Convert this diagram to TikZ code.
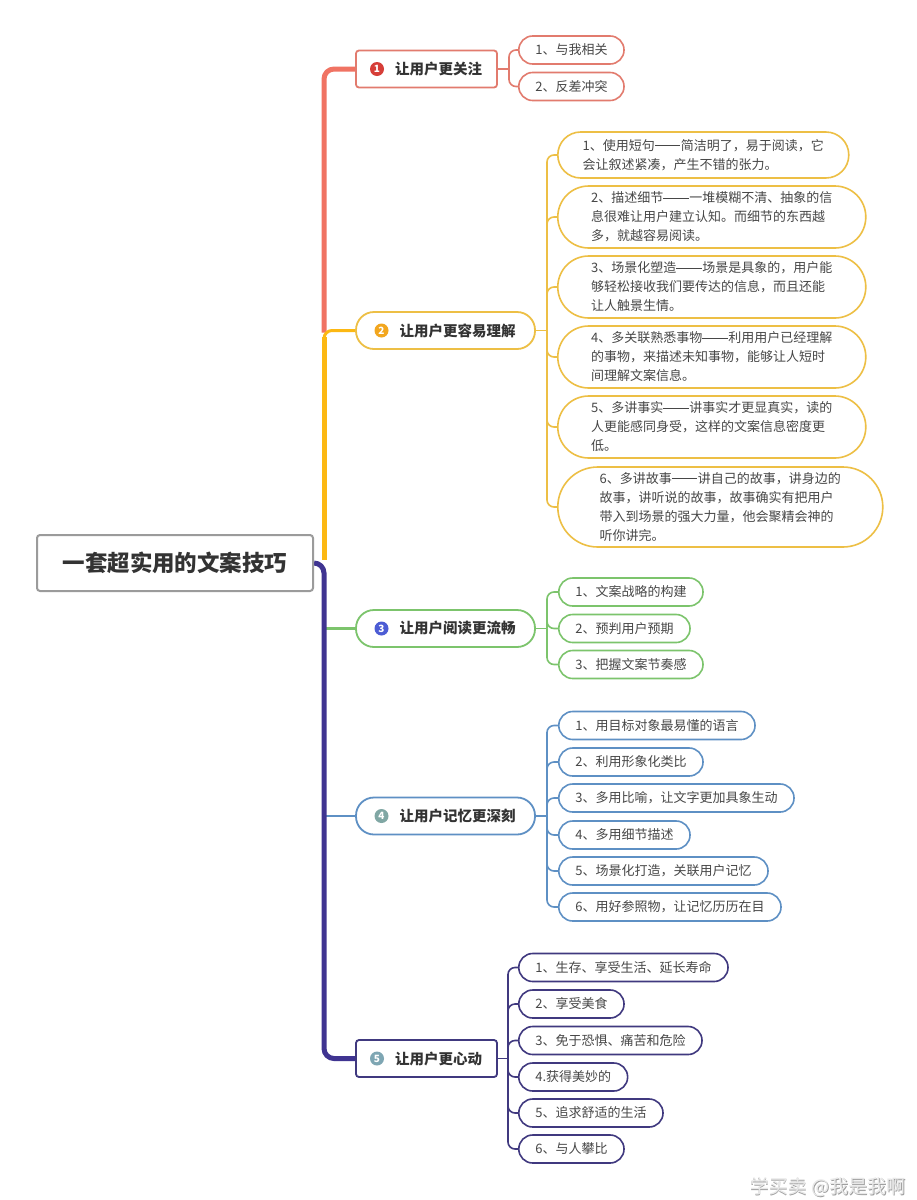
\documentclass[tikz,border=0pt]{standalone}
\usepackage{fontspec}
\setmainfont{Noto Sans CJK SC}
\usetikzlibrary{calc}
\definecolor{cred}{HTML}{F07363}
\definecolor{credb}{HTML}{E27B6E}
\definecolor{cyel}{HTML}{FCB813}
\definecolor{cyelb}{HTML}{EDBF45}
\definecolor{cgrn}{HTML}{7CC46C}
\definecolor{cblu}{HTML}{5E90C4}
\definecolor{cpur}{HTML}{3F3491}
\definecolor{cpurb}{HTML}{40397F}
\definecolor{croot}{HTML}{9B9B9B}
\definecolor{ctxt}{HTML}{333333}
\definecolor{cleaf}{HTML}{474747}
\definecolor{ia}{HTML}{D63E38}
\definecolor{ib}{HTML}{F2A61E}
\definecolor{ic}{HTML}{4C5CD4}
\definecolor{id}{HTML}{80A7A4}
\definecolor{ie}{HTML}{7EA6B3}
\newcommand\ddash{\raisebox{0.33em}{\rule{1.95em}{0.07em}}\hspace{0.05em}}
\pgfdeclarelayer{bg}
\pgfdeclarelayer{paper}
\pgfsetlayers{paper,bg,main}
\tikzset{
  rootbox/.style={draw=croot, line width=2pt, rounded corners=3pt, fill=white,
    minimum width=276pt, minimum height=56pt, inner sep=0pt,
    font=\fontsize{22.5}{26}\selectfont\bfseries, text=ctxt},
  rbox/.style={draw=#1, line width=1.8pt, rounded corners=3pt, fill=white,
    minimum width=141pt, minimum height=37pt, inner sep=0pt,
    font=\fontsize{14.5}{17}\selectfont\bfseries, text=ctxt},
  pbox/.style={draw=#1, line width=1.8pt, rounded corners=18pt, fill=white,
    minimum width=179pt, minimum height=37pt, inner sep=0pt,
    font=\fontsize{14.5}{17}\selectfont\bfseries, text=ctxt},
  leaf/.style={draw=#1, line width=1.6pt, rounded corners=13.9pt, fill=white,
    minimum height=28pt, inner xsep=16.5pt, inner ysep=0pt,
    font=\fontsize{13}{19}\selectfont, text=cleaf, anchor=west},
  bigleaf/.style={draw=cyelb, line width=1.6pt, fill=white, inner sep=0pt,
    font=\fontsize{13}{19}\selectfont, text=cleaf, anchor=west, align=left},
  icon/.style={circle, fill=#1, minimum size=14pt, inner sep=0pt, text=white,
    font=\fontsize{10}{10}\selectfont\bfseries},
  lk/.style={draw=#1, line width=1.6pt, rounded corners=7pt},
}
\begin{document}
\begin{tikzpicture}[x=1pt,y=-1pt]
\useasboundingbox (0,0) rectangle (917,1200);
\begin{pgfonlayer}{paper}
\fill[white] (0,0) rectangle (917,1200);
\end{pgfonlayer}

% root
\node[rootbox] (root) at (175,563) {一套超实用的文案技巧};

% branches
\node[rbox=credb] (b1) at (426.5,69) {\hspace*{24pt}让用户更关注};
\node[pbox=cyelb] (b2) at (445.5,330.5) {\hspace*{24pt}让用户更容易理解};
\node[pbox=cgrn] (b3) at (445.5,628.5) {\hspace*{24pt}让用户阅读更流畅};
\node[pbox=cblu] (b4) at (445.5,816) {\hspace*{24pt}让用户记忆更深刻};
\node[rbox=cpurb] (b5) at (426.5,1058.5) {\hspace*{24pt}让用户更心动};

\node[icon=ia] (i1) at ($(b1.text |- b1.west)+(6,0)$) {1};
\node[icon=ib] (i2) at ($(b2.text |- b2.west)+(6,0)$) {2};
\node[icon=ic] (i3) at ($(b3.text |- b3.west)+(6,0)$) {3};
\node[icon=id] (i4) at ($(b4.text |- b4.west)+(6,0)$) {4};
\node[icon=ie] (i5) at ($(b5.text |- b5.west)+(6,0)$) {5};

% branch 1 leaves
\node[leaf=credb] (l11) at (518,50) {1、与我相关};
\node[leaf=credb] (l12) at (518,86.5) {2、反差冲突};

% branch 2 leaves
\node[bigleaf, minimum width=291pt, minimum height=46pt, rounded corners=22.9pt] (l21) at (557,155)
  {1、使用短句\ddash 简洁明了，易于阅读，它\\会让叙述紧凑，产生不错的张力。};
\node[bigleaf, minimum width=308pt, minimum height=62pt, rounded corners=30.9pt] (l22) at (557,217)
  {2、描述细节\ddash 一堆模糊不清、抽象的信\\息很难让用户建立认知。而细节的东西越\\多，就越容易阅读。};
\node[bigleaf, minimum width=308pt, minimum height=62pt, rounded corners=30.9pt] (l23) at (557,287)
  {3、场景化塑造\ddash 场景是具象的，用户能\\够轻松接收我们要传达的信息，而且还能\\让人触景生情。};
\node[bigleaf, minimum width=308pt, minimum height=62pt, rounded corners=30.9pt] (l24) at (557,357)
  {4、多关联熟悉事物\ddash 利用用户已经理解\\的事物，来描述未知事物，能够让人短时\\间理解文案信息。};
\node[bigleaf, minimum width=308pt, minimum height=62pt, rounded corners=30.9pt] (l25) at (557,427)
  {5、多讲事实\ddash 讲事实才更显真实，读的\\人更能感同身受，这样的文案信息密度更\\低。};
\node[bigleaf, minimum width=325pt, minimum height=80pt, rounded corners=39.9pt] (l26) at (557,507)
  {6、多讲故事\ddash 讲自己的故事，讲身边的\\故事，讲听说的故事，故事确实有把用户\\带入到场景的强大力量，他会聚精会神的\\听你讲完。};

% branch 3 leaves
\node[leaf=cgrn] (l31) at (558,592) {1、文案战略的构建};
\node[leaf=cgrn] (l32) at (558,628.5) {2、预判用户预期};
\node[leaf=cgrn] (l33) at (558,664.5) {3、把握文案节奏感};

% branch 4 leaves
\node[leaf=cblu] (l41) at (558,725.5) {1、用目标对象最易懂的语言};
\node[leaf=cblu] (l42) at (558,762) {2、利用形象化类比};
\node[leaf=cblu] (l43) at (558,798) {3、多用比喻，让文字更加具象生动};
\node[leaf=cblu] (l44) at (558,835) {4、多用细节描述};
\node[leaf=cblu] (l45) at (558,871) {5、场景化打造，关联用户记忆};
\node[leaf=cblu] (l46) at (558,907) {6、用好参照物，让记忆历历在目};

% branch 5 leaves
\node[leaf=cpurb] (l51) at (518,967.5) {1、生存、享受生活、延长寿命};
\node[leaf=cpurb] (l52) at (518,1004) {2、享受美食};
\node[leaf=cpurb] (l53) at (518,1040.5) {3、免于恐惧、痛苦和危险};
\node[leaf=cpurb] (l54) at (518,1077) {4.获得美妙的};
\node[leaf=cpurb] (l55) at (518,1113) {5、追求舒适的生活};
\node[leaf=cpurb] (l56) at (518,1149) {6、与人攀比};

% watermark
\node[text=gray!75, font=\fontsize{19}{22}\selectfont] (wm0) at (828.6,1187.6) {学买卖 @我是我啊};
\node[text=gray!18, font=\fontsize{19}{22}\selectfont] (wm) at (828,1187) {学买卖 @我是我啊};

\coordinate (tk) at (324,0);
\coordinate (x1) at (509,0);
\coordinate (x2) at (547,0);
\coordinate (x5) at (508,0);

\begin{pgfonlayer}{bg}
  % trunk
  \draw[cred, line width=5pt, rounded corners=10pt] (b1.west) -- (b1.west -| tk) -- ($(b2.west -| tk)+(0,2)$);
  \draw[cyel, line width=3pt, rounded corners=8pt] (b2.west) -- (b2.west -| tk) -- ($(b2.west -| tk)+(0,14)$);
  \draw[cyel, line width=5pt] ($(b2.west -| tk)+(0,6)$) -- ($(root.east -| tk)+(0,-3)$);
  \draw[cgrn, line width=2.5pt] (b3.west -| tk) -- (b3.west);
  \draw[cblu, line width=2.5pt] (b4.west -| tk) -- (b4.west);
  \draw[cpur, line width=5pt, rounded corners=10pt] (root.east) -- (root.east -| tk) -- (b5.west -| tk) -- (b5.west);
  % branch 1
  \draw[credb, line width=1.6pt] (b1.east) -- (b1.east -| x1);
  \foreach \l in {l11,l12} \draw[lk=credb] (b1.east -| x1) |- (\l.west);
  % branch 2
  \draw[cyelb, line width=1.6pt] (b2.east) -- (b2.east -| x2);
  \foreach \l in {l21,l22,l23,l24,l25,l26} \draw[lk=cyelb] (b2.east -| x2) |- (\l.west);
  % branch 3
  \draw[cgrn, line width=1.6pt] (b3.east) -- (b3.east -| x2);
  \foreach \l in {l31,l32,l33} \draw[lk=cgrn] (b3.east -| x2) |- (\l.west);
  % branch 4
  \draw[cblu, line width=1.6pt] (b4.east) -- (b4.east -| x2);
  \foreach \l in {l41,l42,l43,l44,l45,l46} \draw[lk=cblu] (b4.east -| x2) |- (\l.west);
  % branch 5
  \draw[cpurb, line width=1.6pt] (b5.east) -- (b5.east -| x5);
  \foreach \l in {l51,l52,l53,l54,l55,l56} \draw[lk=cpurb] (b5.east -| x5) |- (\l.west);
\end{pgfonlayer}
\end{tikzpicture}
\end{document}
